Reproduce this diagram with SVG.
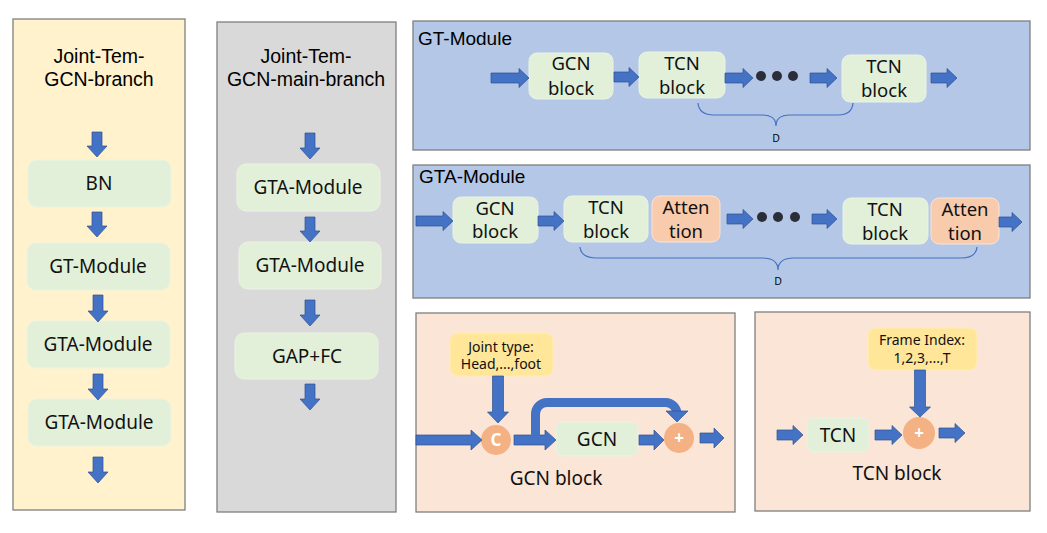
<svg xmlns="http://www.w3.org/2000/svg" width="1047" height="533" viewBox="0 0 1047 533">
<style>
.panel{stroke:#7F7F7F;stroke-width:1.3}
.box{fill:#E2F0D9;stroke:#EAF3E4;stroke-width:1}
.att{fill:#F8CBAD;stroke:#FBE3D3;stroke-width:1}
.note{fill:#FFE699;stroke:#FFEDB3;stroke-width:1}
.circ{fill:#F4B183}
.arr{fill:#4472C4;stroke:#2F528F;stroke-width:0.7}
.dot{fill:#2B2D38}
.brace{fill:none;stroke:#4472C4;stroke-width:1.2}
.ttl{font-family:"Liberation Sans",Arial,sans-serif;font-size:19.5px;fill:#000}
.lbl{font-family:"Noto Sans","Open Sans",sans-serif;font-size:19px;fill:#111;text-anchor:middle}
.blk{font-family:"Noto Sans","Open Sans",sans-serif;font-size:18.5px;fill:#111;text-anchor:middle}
.sm{font-family:"Noto Sans","Open Sans",sans-serif;font-size:14px;fill:#111;text-anchor:middle}
.d{font-family:"Liberation Sans",Arial,sans-serif;font-size:10px;fill:#000;text-anchor:middle}
.op{font-family:"Noto Sans","Open Sans",sans-serif;font-size:17px;font-weight:bold;fill:#fff;text-anchor:middle}
</style>

<!-- Panels -->
<g id="joint-tem-gcn-branch">
<rect class="panel" x="13" y="19" width="172" height="491" fill="#FFF2CC"/>
<text class="ttl" x="99" y="63" text-anchor="middle">Joint-Tem-</text>
<text class="ttl" x="99" y="86" text-anchor="middle">GCN-branch</text>
</g>
<g id="joint-tem-gcn-main-branch">
<rect class="panel" x="217" y="22" width="179" height="490" fill="#D9D9D9"/>
<text class="ttl" x="306" y="63" text-anchor="middle">Joint-Tem-</text>
<text class="ttl" x="306" y="86" text-anchor="middle">GCN-main-branch</text>
</g>
<g id="gt-module-panel">
<rect class="panel" x="413" y="21" width="617" height="129" fill="#B4C7E7"/>
<text class="ttl" x="418" y="45" style="font-size:19px">GT-Module</text>
</g>
<g id="gta-module-panel">
<rect class="panel" x="413" y="165" width="617" height="133" fill="#B4C7E7"/>
<text class="ttl" x="419" y="183" style="font-size:19px">GTA-Module</text>
</g>
<g id="gcn-block-panel">
<rect class="panel" x="416" y="313" width="319" height="199" fill="#FBE5D6"/>
<text class="lbl" x="556" y="485">GCN block</text>
</g>
<g id="tcn-block-panel">
<rect class="panel" x="755" y="312" width="275" height="199" fill="#FBE5D6"/>
<text class="lbl" x="897" y="480">TCN block</text>
</g>

<!-- Left column nodes -->
<g id="l-bn"><rect class="box" x="28" y="160" width="143" height="47" rx="9"/><text class="lbl" x="99" y="190">BN</text></g>
<g id="l-gt"><rect class="box" x="27" y="243" width="143" height="47" rx="9"/><text class="lbl" x="98" y="273">GT-Module</text></g>
<g id="l-gta1"><rect class="box" x="27" y="321" width="143" height="47" rx="9"/><text class="lbl" x="98" y="351">GTA-Module</text></g>
<g id="l-gta2"><rect class="box" x="28" y="399" width="143" height="47" rx="9"/><text class="lbl" x="99" y="429">GTA-Module</text></g>

<!-- Middle column nodes -->
<g id="m-gta1"><rect class="box" x="237" y="164" width="143" height="47" rx="9"/><text class="lbl" x="308" y="194">GTA-Module</text></g>
<g id="m-gta2"><rect class="box" x="239" y="242" width="142" height="47" rx="9"/><text class="lbl" x="310" y="272">GTA-Module</text></g>
<g id="m-gapfc"><rect class="box" x="235" y="333" width="143" height="46" rx="9"/><text class="lbl" x="307" y="363">GAP+FC</text></g>

<!-- GT-Module nodes -->
<g id="gt-gcn"><rect class="box" x="529" y="53" width="84" height="46" rx="8"/><text class="blk" x="571" y="70">GCN</text><text class="blk" x="571" y="95">block</text></g>
<g id="gt-tcn1"><rect class="box" x="639" y="52" width="86" height="46" rx="8"/><text class="blk" x="682" y="70">TCN</text><text class="blk" x="682" y="94">block</text></g>
<g id="gt-tcn2"><rect class="box" x="842" y="55" width="84" height="47" rx="8"/><text class="blk" x="884" y="73">TCN</text><text class="blk" x="884" y="97">block</text></g>

<!-- GTA-Module nodes -->
<g id="gta-gcn"><rect class="box" x="453" y="197" width="85" height="46" rx="8"/><text class="blk" x="495" y="215">GCN</text><text class="blk" x="495" y="238">block</text></g>
<g id="gta-tcn1"><rect class="box" x="564" y="196" width="84" height="46" rx="8"/><text class="blk" x="606" y="214">TCN</text><text class="blk" x="606" y="238">block</text></g>
<g id="gta-att1"><rect class="att" x="652" y="196" width="68" height="46" rx="8"/><text class="blk" x="686" y="214">Atten</text><text class="blk" x="686" y="238">tion</text></g>
<g id="gta-tcn2"><rect class="box" x="843" y="198" width="85" height="46" rx="8"/><text class="blk" x="885" y="216">TCN</text><text class="blk" x="885" y="240">block</text></g>
<g id="gta-att2"><rect class="att" x="931" y="198" width="68" height="46" rx="8"/><text class="blk" x="965" y="216">Atten</text><text class="blk" x="965" y="240">tion</text></g>

<!-- GCN block detail nodes -->
<g id="joint-type"><rect class="note" x="450" y="333" width="103" height="43" rx="8"/><text class="sm" x="501" y="352">Joint type:</text><text class="sm" x="501" y="369">Head,...,foot</text></g>
<g id="concat"><circle class="circ" cx="496" cy="440" r="15"/><text class="op" x="496" y="446">C</text></g>
<g id="gcn-inner"><rect class="box" x="556" y="422" width="82" height="34" rx="7"/><text class="lbl" x="597" y="446">GCN</text></g>
<g id="gcn-add"><circle class="circ" cx="679" cy="438" r="15"/><text class="op" x="679" y="444">+</text></g>

<!-- TCN block detail nodes -->
<g id="frame-index"><rect class="note" x="868" y="328" width="109" height="42" rx="8"/><text class="sm" x="922" y="345">Frame Index:</text><text class="sm" x="922" y="363">1,2,3,...,T</text></g>
<g id="tcn-inner"><rect class="box" x="807" y="418" width="62" height="34" rx="7"/><text class="lbl" x="838" y="442">TCN</text></g>
<g id="tcn-add"><circle class="circ" cx="919" cy="433" r="16"/><text class="op" x="919" y="439">+</text></g>

<!-- Connectors -->
<g id="connectors">
<!-- left column down arrows -->
<polygon class="arr" points="92,132 102,132 102,146 107,146 97,157 87,146 92,146"/>
<polygon class="arr" points="92,212 102,212 102,226 107,226 97,237 87,226 92,226"/>
<polygon class="arr" points="93,295 103,295 103,311 108,311 98,322 88,311 93,311"/>
<polygon class="arr" points="93,374 103,374 103,389 108,389 98,400 88,389 93,389"/>
<polygon class="arr" points="93,457 103,457 103,472 108,472 98,483 88,472 93,472"/>
<!-- middle column down arrows -->
<polygon class="arr" points="305,133 315,133 315,148 320,148 310,159 300,148 305,148"/>
<polygon class="arr" points="305,217 315,217 315,231 320,231 310,242 300,231 305,231"/>
<polygon class="arr" points="305,300 315,300 315,315 320,315 310,326 300,315 305,315"/>
<polygon class="arr" points="305,384 315,384 315,399 320,399 310,410 300,399 305,399"/>
<!-- GT-Module arrows -->
<polygon class="arr" points="491,73 519,73 519,68.5 529,78 519,87.5 519,83 491,83"/>
<polygon class="arr" points="614,72 629,72 629,67.5 639,77 629,86.5 629,82 614,82"/>
<polygon class="arr" points="725,73 743,73 743,68.5 753,78 743,87.5 743,83 725,83"/>
<polygon class="arr" points="810,73 827,73 827,68.5 837,78 827,87.5 827,83 810,83"/>
<polygon class="arr" points="931,73 947,73 947,68.5 957,78 947,87.5 947,83 931,83"/>
<circle class="dot" cx="761" cy="76" r="5"/>
<circle class="dot" cx="777" cy="76" r="5"/>
<circle class="dot" cx="793" cy="76" r="5"/>
<path class="brace" d="M698,103 Q699,115 714,115 L762,115 Q776,115 776,126 Q776,115 790,115 L838,115 Q852,115 853,103"/>
<text class="d" x="776" y="142">D</text>
<!-- GTA-Module arrows -->
<polygon class="arr" points="416,216 443,216 443,211.5 453,221 443,230.5 443,226 416,226"/>
<polygon class="arr" points="538,216 554,216 554,211.5 564,221 554,230.5 554,226 538,226"/>
<polygon class="arr" points="727,214 743,214 743,209.5 753,219 743,228.5 743,224 727,224"/>
<polygon class="arr" points="812,214 827,214 827,209.5 837,219 827,228.5 827,224 812,224"/>
<polygon class="arr" points="999,217 1012,217 1012,212.5 1022,222 1012,231.5 1012,227 999,227"/>
<circle class="dot" cx="762" cy="217" r="5"/>
<circle class="dot" cx="778" cy="217" r="5"/>
<circle class="dot" cx="795" cy="217" r="5"/>
<path class="brace" d="M580,247 Q581,258 597,258 L762,258 Q778,258 778,270 Q778,258 794,258 L961,258 Q976,258 977,247"/>
<text class="d" x="778" y="285">D</text>
<!-- GCN block detail arrows -->
<polygon class="arr" points="416,435 471,435 471,430 482,440 471,450 471,445 416,445"/>
<polygon class="arr" points="492.5,376 503.5,376 503.5,412 508.5,412 498,423 487.5,412 492.5,412"/>
<polygon class="arr" points="514,435 545,435 545,430 556,440 545,450 545,445 514,445"/>
<path d="M535.5,436 L535.5,414 A11.5,11.5 0 0 1 547,402.5 L665.5,402.5 A11.5,11.5 0 0 1 677,414 L677,413" fill="none" stroke="#4472C4" stroke-width="9"/>
<polygon class="arr" points="666,411 688,411 677,422"/>
<polygon class="arr" points="639,435 654,435 654,430 664,440 654,450 654,445 639,445"/>
<polygon class="arr" points="700,433 714,433 714,428 724,438 714,448 714,443 700,443"/>
<!-- TCN block detail arrows -->
<polygon class="arr" points="777,430 793,430 793,425.5 803,435 793,444.5 793,440 777,440"/>
<polygon class="arr" points="875,430 892,430 892,425.5 902,435 892,444.5 892,440 875,440"/>
<polygon class="arr" points="914.5,370 925.5,370 925.5,407 930.5,407 920,417 909.5,407 914.5,407"/>
<polygon class="arr" points="939,428 955,428 955,423.5 965,433 955,442.5 955,438 939,438"/>
</g>
</svg>
